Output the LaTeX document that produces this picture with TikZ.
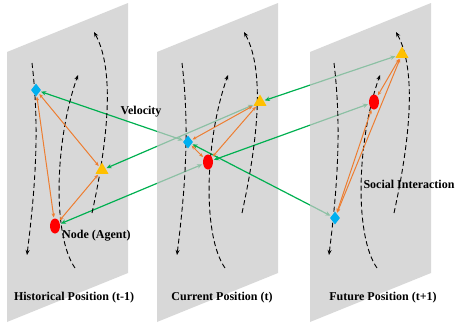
\documentclass[tikz,border=0pt]{standalone}
\usepackage{fontspec}
\setmainfont{Liberation Serif}
\usepackage{xcolor}
\usetikzlibrary{shapes.geometric, arrows.meta, positioning}

\definecolor{panelgray}{RGB}{200,200,200}
\definecolor{agentRed}{RGB}{255,0,0}
\definecolor{agentBlue}{RGB}{0,176,240}
\definecolor{agentYellow}{RGB}{255,192,0}
\definecolor{linkGreen}{RGB}{0,176,80}
\definecolor{socialOrange}{RGB}{237,125,49}

\pgfdeclarelayer{pan1}
\pgfdeclarelayer{link12}
\pgfdeclarelayer{pan2}
\pgfdeclarelayer{link23}
\pgfdeclarelayer{pan3}
\pgfsetlayers{pan1,link12,pan2,link23,pan3,main}

\begin{document}
\begin{tikzpicture}[
    x=1pt, y=-1pt,
    panel/.style={fill=panelgray, fill opacity=0.7, draw=none},
    redagent/.style={ellipse, fill=agentRed, minimum width=10pt,
      minimum height=15pt, inner sep=0pt},
    blueagent/.style={diamond, fill=agentBlue, minimum width=10pt,
      minimum height=13pt, inner sep=0pt},
    yellowagent/.style={regular polygon, regular polygon sides=3,
      fill=agentYellow, minimum size=15pt, inner sep=0pt},
    traj/.style={black, line width=0.9pt, dash pattern=on 5pt off 3pt,
      -{Stealth[length=5pt, width=4pt]}},
    social/.style={socialOrange, line width=1pt, shorten <=1pt, shorten >=1pt,
      {Stealth[length=4pt, width=3.5pt]}-{Stealth[length=4pt, width=3.5pt]}},
    velo/.style={linkGreen, line width=1.2pt, shorten <=1pt, shorten >=1pt,
      {Stealth[length=5pt, width=4.5pt]}-{Stealth[length=5pt, width=4.5pt]}},
    lbl/.style={font=\fontsize{12}{14}\selectfont\bfseries, inner sep=0pt}
]
\useasboundingbox (0,0) rectangle (456,322);

% Panels
\begin{pgfonlayer}{pan1}
\fill[panel] (7,52) -- (128,3) -- (128,273) -- (7,322) -- cycle;
\end{pgfonlayer}
\begin{pgfonlayer}{pan2}
\fill[panel] (157,52) -- (278,3) -- (278,273) -- (157,322) -- cycle;
\end{pgfonlayer}
\begin{pgfonlayer}{pan3}
\fill[panel] (310,52) -- (431,3) -- (431,273) -- (310,322) -- cycle;
\end{pgfonlayer}

% Trajectories
\foreach \dx in {0,150,302} {
  \begin{scope}[shift={(\dx,0)}]
    \draw[traj] (32,63) .. controls (40,130) and (35,190) .. (27,255);
    \draw[traj] (75,268) .. controls (52,235) and (55,140) .. (78,75);
    \draw[traj] (92,213) .. controls (108,140) and (115,70) .. (94,32);
  \end{scope}
}

% Agents, historical
\node[blueagent] (p1_blue) at (36,90) {};
\node[yellowagent] (p1_yellow) at (102,170) {};
\node[redagent] (p1_red) at (55,226) {};

% Agents, current
\node[blueagent] (p2_blue) at (188,142) {};
\node[yellowagent] (p2_yellow) at (260,102) {};
\node[redagent] (p2_red) at (208,162) {};

% Agents, future
\node[blueagent] (p3_blue) at (335,218) {};
\node[yellowagent] (p3_yellow) at (402,54) {};
\node[redagent] (p3_red) at (374,102) {};

% Social interaction
\draw[social] (p1_blue) -- (p1_yellow);
\draw[social] (p1_blue) -- (p1_red);
\draw[social] (p1_red) -- (p1_yellow);
\draw[social] (p2_blue) -- (p2_yellow);
\draw[social] (p2_blue) -- (p2_red);
\draw[social] (p2_red) -- (p2_yellow);
\draw[social] (p3_yellow) -- (p3_red);
\draw[social] (p3_red) -- (p3_blue);
\draw[social] (p3_yellow) -- (p3_blue);

% Velocity links
\begin{pgfonlayer}{link12}
\draw[velo] (p1_blue) -- (p2_blue);
\draw[velo] (p1_yellow) -- (p2_yellow);
\draw[velo] (p1_red) -- (p2_red);
\end{pgfonlayer}
\begin{pgfonlayer}{link23}
\draw[velo] (p2_blue) -- (p3_blue);
\draw[velo] (p2_yellow) -- (p3_yellow);
\draw[velo] (p2_red) -- (p3_red);
\end{pgfonlayer}

% Labels
\node[lbl] (velocity) at (141,112) {Velocity};
\node[lbl, anchor=west] (agent) at (62,236) {Node (Agent)};
\node[lbl] (socint) at (409,184) {Social Interaction};
\node[lbl] (hist) at (74,298) {Historical Position (t-1)};
\node[lbl] (curr) at (222,298) {Current Position (t)};
\node[lbl] (fut) at (383,298) {Future Position (t+1)};

\end{tikzpicture}
\end{document}
